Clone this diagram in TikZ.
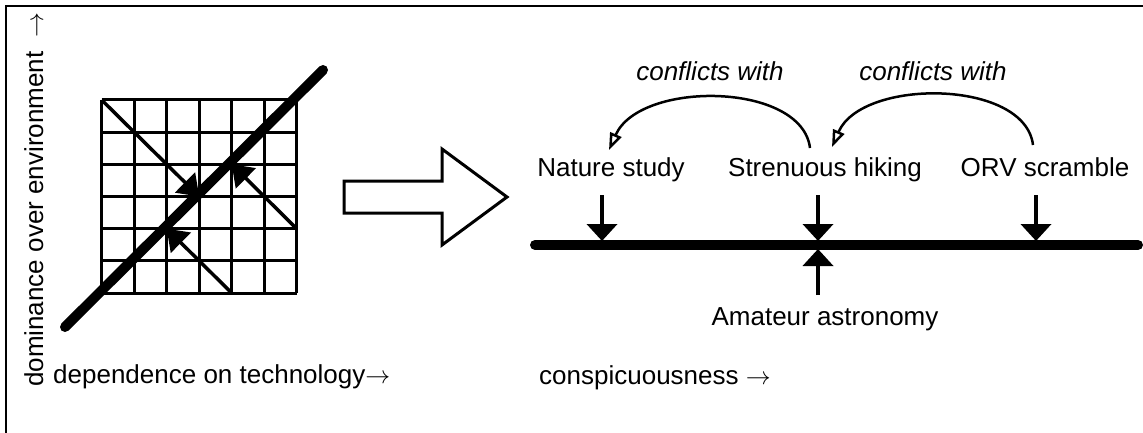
\documentclass[tikz,border=0pt]{standalone}
\usepackage{fontspec}
\setmainfont{Liberation Sans}
\usetikzlibrary{arrows.meta}
\begin{document}
\begin{tikzpicture}[x=1pt,y=-1pt,
  lbl/.style={font=\fontsize{26}{30}\selectfont, inner sep=0pt, anchor=base},
  ilbl/.style={font=\fontsize{26}{30}\selectfont\itshape, inner sep=0pt, anchor=base},
  gridline/.style={line width=3pt},
  thinarrow/.style={line width=3.5pt, -{Triangle[length=20pt,width=28pt]}},
  thickline/.style={line width=10pt, line cap=round},
  downarrow/.style={line width=4pt, -{Triangle[length=17pt,width=30pt]}},
  conflict/.style={line width=2.5pt, -{Triangle[open,length=17pt,width=12pt,line width=2.5pt]}},
  bigarrow/.style={line width=3pt, line join=miter},
  frameline/.style={line width=2pt}
]
\useasboundingbox (0,0) rectangle (1143,433);
% frame
\coordinate (ftl) at (6,6);
\coordinate (ftr) at (1143,6);
\coordinate (fbl) at (6,433);
\draw[frameline] (ftr) -- (ftl) -- (fbl);

% left axis labels
\node[lbl, rotate=90, anchor=base west] (dom) at (43,387) {dominance over environment\hspace{14pt}$\rightarrow$};
\node[lbl, anchor=base west] (dep) at (53,383) {dependence on technology$\rightarrow$};

% grid
\foreach \i in {0,...,6} {
  \draw[gridline] ({101.7+32.5*\i},100) -- ({101.7+32.5*\i},293);
  \draw[gridline] (101.7,{100+32.17*\i}) -- (296.7,{100+32.17*\i});
}
\coordinate (g00) at (101.7,100);
\coordinate (g33) at (199.2,196.5);
\coordinate (g64) at (296.7,228.7);
\coordinate (g42) at (231.7,164.3);
\coordinate (g46) at (231.7,293);
\coordinate (g24) at (166.7,228.7);
\draw[thinarrow] (g00) -- (g33);
\draw[thinarrow] (g64) -- (g42);
\draw[thinarrow] (g46) -- (g24);
\coordinate (d1) at (65,327);
\coordinate (d2) at (323,70);
\draw[thickline] (d1) -- (d2);

% hollow arrow
\draw[bigarrow] (344,181) -- (442,181) -- (442,149) -- (507,197) -- (442,245) -- (442,213) -- (344,213) -- cycle;

% right panel
\node[lbl] (nat) at (611,176) {Nature study};
\node[lbl] (str) at (825,176) {Strenuous hiking};
\node[lbl] (orv) at (1045,176) {ORV scramble};
\node[lbl] (ama) at (825,325) {Amateur astronomy};
\node[lbl, anchor=base west] (consp) at (539,384) {conspicuousness $\rightarrow$};
\node[ilbl] (cw1) at (710,81) {conflicts with};
\node[ilbl] (cw2) at (933,81) {conflicts with};

\coordinate (L1) at (535,245);
\coordinate (L2) at (1138,245);
\draw[thickline] (L1) -- (L2);

\coordinate (v1t) at (602,195); \coordinate (v1b) at (602,241);
\coordinate (v2t) at (818,195); \coordinate (v2b) at (818,241);
\coordinate (v3t) at (1036,195); \coordinate (v3b) at (1036,241);
\coordinate (v4t) at (818,295); \coordinate (v4b) at (818,249);
\draw[downarrow] (v1t) -- (v1b);
\draw[downarrow] (v2t) -- (v2b);
\draw[downarrow] (v3t) -- (v3b);
\draw[downarrow] (v4t) -- (v4b);

\coordinate (a1s) at (810,148); \coordinate (a1e) at (609,150);
\coordinate (a2s) at (1033,145); \coordinate (a2e) at (832,147);
\draw[conflict] (a1s) .. controls (802,82) and (640,80) .. (a1e);
\draw[conflict] (a2s) .. controls (1025,79) and (862,78) .. (a2e);
\end{tikzpicture}
\end{document}
